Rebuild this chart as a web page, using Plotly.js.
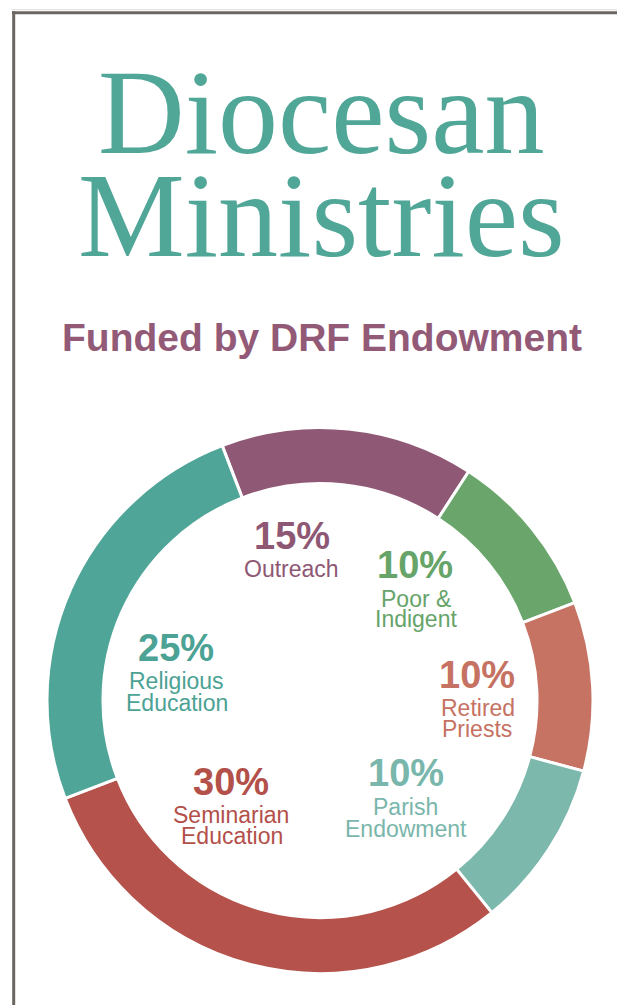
<!DOCTYPE html>
<html>
<head>
<meta charset="utf-8">
<script src="https://cdn.plot.ly/plotly-3.0.1.min.js"></script>
<style>
  html, body { margin: 0; padding: 0; background: #ffffff; }
  #chart { width: 617px; height: 1005px; }
</style>
</head>
<body>
<div id="chart"></div>
<script>
// ---- data ----
const categories = ['Outreach', 'Poor & Indigent', 'Retired Priests', 'Parish Endowment', 'Seminarian Education', 'Religious Education'];
const shares = [15, 10, 10, 10, 30, 25];
const labelLines = [['Outreach'], ['Poor &', 'Indigent'], ['Retired', 'Priests'], ['Parish', 'Endowment'], ['Seminarian', 'Education'], ['Religious', 'Education']];
const titleLines = ['Diocesan', 'Ministries'];
const subtitle = 'Funded by DRF Endowment';

// ---- styles / layout positions (pixels in a 617x1005 page) ----
const W = 617, H = 1005;
const sliceColors = ['#8F5874', '#6AA66B', '#C67363', '#7DB8AD', '#B4524B', '#4FA597'];
const textColors  = ['#8E5874', '#66A46A', '#C67262', '#79B6AB', '#B3504A', '#4CA294'];
// centre of the percentage text and of each label line
const pctPos = [[291.7, 536.3], [415, 565], [477.3, 674.5], [406.3, 773], [230.5, 782.2], [175.7, 647.8]];
const linePos = [
  [[291, 569]],
  [[416, 598.7], [415.5, 618.7]],
  [[477.5, 708], [477, 729.3]],
  [[405, 807], [406.3, 829.3]],
  [[231.3, 815.3], [231.7, 836]],
  [[176.7, 681.3], [177, 703]]
];
const px = (x) => x / W;
const py = (y) => 1 - y / H;

const cx = 320, cy = 700.5, R = 273;

const pie = {
  type: 'pie',
  labels: categories,
  values: shares,
  sort: false,
  direction: 'clockwise',
  rotation: -21,
  hole: 0.795,
  textinfo: 'none',
  hoverinfo: 'skip',
  marker: { colors: sliceColors, line: { color: '#ffffff', width: 3 } },
  domain: { x: [px(cx - R), px(cx + R)], y: [py(cy + R), py(cy - R)] },
  showlegend: false
};

const annotations = [];
titleLines.forEach((t, i) => {
  annotations.push({
    text: t, xref: 'paper', yref: 'paper', x: px(321), y: py([112.5, 215.5][i]),
    xanchor: 'center', yanchor: 'middle', showarrow: false,
    font: { family: 'Liberation Serif, Times New Roman, serif', size: 120, color: '#50A697' }
  });
});
annotations.push({
  text: '<b>' + subtitle + '</b>', xref: 'paper', yref: 'paper', x: px(322.3), y: py(337.8),
  xanchor: 'center', yanchor: 'middle', showarrow: false,
  font: { family: 'Liberation Sans, Arial, sans-serif', size: 39, color: '#925A76' }
});
shares.forEach((v, i) => {
  annotations.push({
    text: '<b>' + v + '%</b>', xref: 'paper', yref: 'paper',
    x: px(pctPos[i][0]), y: py(pctPos[i][1]),
    xanchor: 'center', yanchor: 'middle', showarrow: false,
    font: { family: 'Liberation Sans, Arial, sans-serif', size: 38, color: textColors[i] }
  });
  labelLines[i].forEach((ln, j) => {
    annotations.push({
      text: ln, xref: 'paper', yref: 'paper',
      x: px(linePos[i][j][0]), y: py(linePos[i][j][1]),
      xanchor: 'center', yanchor: 'middle', showarrow: false,
      font: { family: 'Liberation Sans, Arial, sans-serif', size: 23, color: textColors[i] }
    });
  });
});

const shapes = [
  { type: 'line', xref: 'paper', yref: 'paper', x0: px(12), x1: px(617), y0: py(9.7), y1: py(9.7), line: { color: '#DADADA', width: 1 } },
  { type: 'line', xref: 'paper', yref: 'paper', x0: px(12), x1: px(617), y0: py(12.7), y1: py(12.7), line: { color: '#6B6661', width: 3 } },
  { type: 'line', xref: 'paper', yref: 'paper', x0: px(13.7), x1: px(13.7), y0: py(11.2), y1: py(1005), line: { color: '#6B6661', width: 3 } }
];

const layout = {
  width: W, height: H,
  margin: { l: 0, r: 0, t: 0, b: 0, pad: 0 },
  paper_bgcolor: '#ffffff', plot_bgcolor: '#ffffff',
  showlegend: false,
  annotations: annotations,
  shapes: shapes
};

Plotly.newPlot('chart', [pie], layout, { displayModeBar: false, staticPlot: true });
</script>
</body>
</html>
